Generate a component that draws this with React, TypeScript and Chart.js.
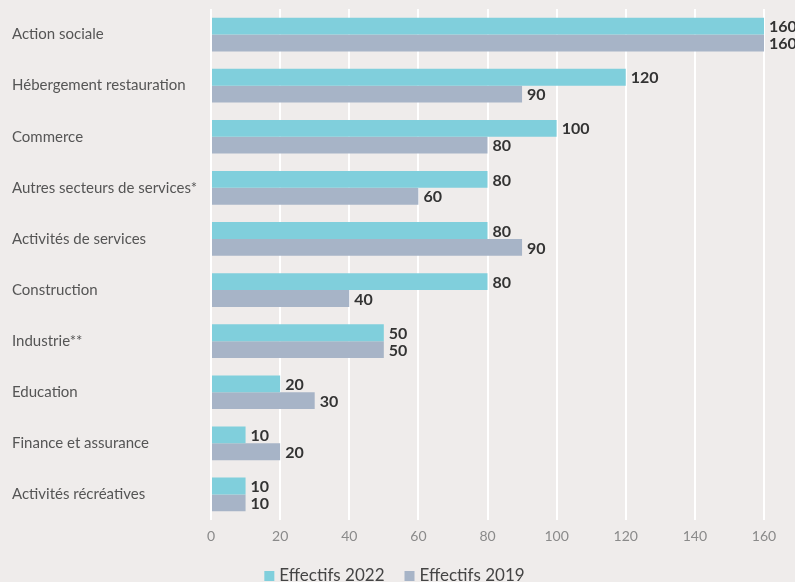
import React, { useEffect, useRef } from "react";
import { Chart, registerables } from "chart.js";

Chart.register(...registerables);

const categories = [
  "Action sociale",
  "Hébergement restauration",
  "Commerce",
  "Autres secteurs de services*",
  "Activités de services",
  "Construction",
  "Industrie**",
  "Education",
  "Finance et assurance",
  "Activités récréatives",
];
const effectifs2022 = [160, 120, 100, 80, 80, 80, 50, 20, 10, 10];
const effectifs2019 = [160, 90, 80, 60, 90, 40, 50, 30, 20, 10];
const seriesLabels = ["Effectifs 2022", "Effectifs 2019"];
const xMin = 0;
const xMax = 160;
const xStep = 20;

const BG = "#efeceb";
const FONT = "Lato, 'Open Sans', sans-serif";

const valueLabels = {
  id: "valueLabels",
  afterDatasetsDraw(chart: any) {
    const ctx = chart.ctx;
    ctx.save();
    ctx.font = `bold 16px ${FONT}`;
    ctx.fillStyle = "#333333";
    ctx.textAlign = "left";
    ctx.textBaseline = "middle";
    chart.data.datasets.forEach((ds: any, i: number) => {
      const meta = chart.getDatasetMeta(i);
      meta.data.forEach((el: any, j: number) => {
        ctx.fillText(String(ds.data[j]), el.x + 5, el.y + 1);
      });
    });
    ctx.restore();
  },
};

const customLegend = {
  id: "customLegend",
  afterDraw(chart: any) {
    const ctx = chart.ctx;
    ctx.save();
    ctx.font = `17px ${FONT}`;
    ctx.textBaseline = "alphabetic";
    ctx.textAlign = "left";
    const box = 10;
    const gapText = 5;
    const gapItem = 20;
    const items = chart.data.datasets.map((ds: any) => ({
      label: ds.label,
      color: ds.backgroundColor,
      w: ctx.measureText(ds.label).width,
    }));
    const total =
      items.reduce((s: number, it: any) => s + box + gapText + it.w, 0) +
      gapItem * (items.length - 1);
    let x = chart.width / 2 - 3 - total / 2;
    const yBox = 571;
    items.forEach((it: any) => {
      ctx.fillStyle = it.color;
      ctx.fillRect(x, yBox, box, box);
      x += box + gapText;
      ctx.fillStyle = "#444444";
      ctx.fillText(it.label, x, 580.5);
      x += it.w + gapItem;
    });
    ctx.restore();
  },
};

export default function App() {
  const canvasRef = useRef<HTMLCanvasElement | null>(null);

  useEffect(() => {
    if (!canvasRef.current) return;
    const chart = new Chart(canvasRef.current, {
      type: "bar",
      data: {
        labels: categories,
        datasets: [
          {
            label: seriesLabels[0],
            data: effectifs2022,
            backgroundColor: "#80cfdc",
            categoryPercentage: 0.66,
            barPercentage: 1.0,
          },
          {
            label: seriesLabels[1],
            data: effectifs2019,
            backgroundColor: "#a7b4c7",
            categoryPercentage: 0.66,
            barPercentage: 1.0,
          },
        ],
      },
      options: {
        indexAxis: "y",
        animation: false,
        responsive: true,
        maintainAspectRatio: false,
        layout: { padding: { left: 12, right: 31, top: 7, bottom: 32 } },
        plugins: {
          legend: { display: false },
          tooltip: { enabled: false },
        },
        scales: {
          x: {
            min: xMin,
            max: xMax,
            grid: { color: "#ffffff", lineWidth: 2, drawTicks: false },
            border: { display: false },
            ticks: {
              stepSize: xStep,
              color: "#8a8a8a",
              font: { family: FONT, size: 14 },
              padding: 8,
            },
            afterFit: (s: any) => {
              s.height = 30;
            },
          },
          y: {
            grid: { display: false },
            border: { display: false },
            ticks: {
              crossAlign: "far",
              color: "#555555",
              font: { family: FONT, size: 15 },
              padding: 0,
            },
            afterFit: (s: any) => {
              s.width = 199;
            },
          },
        },
      },
      plugins: [valueLabels, customLegend],
    });
    return () => chart.destroy();
  }, []);

  return (
    <div
      style={{
        position: "fixed",
        left: 0,
        top: 0,
        width: 795,
        height: 582,
        background: BG,
      }}
    >
      <canvas ref={canvasRef} />
    </div>
  );
}
